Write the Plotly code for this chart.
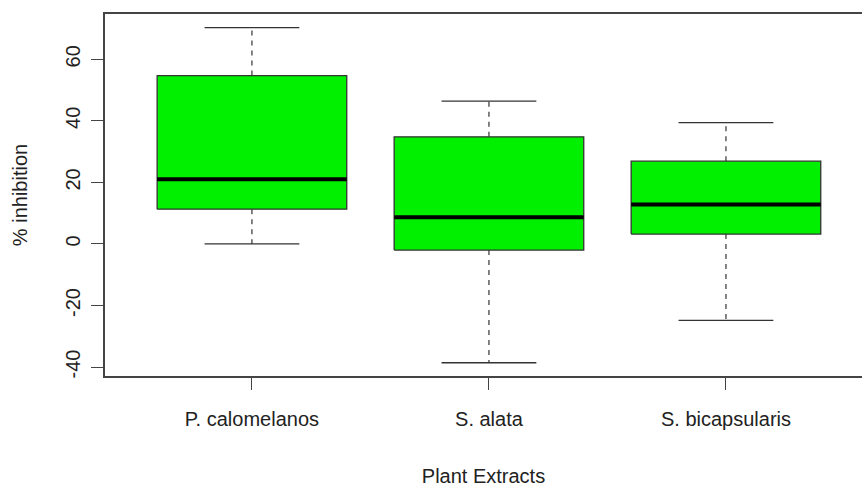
import plotly.graph_objects as go

categories = ["P. calomelanos", "S. alata", "S. bicapsularis"]
lower_whisker = [0.0, -38.6, -24.8]
q1_values = [11.3, -2.0, 3.2]
median_values = [21.0, 8.7, 12.8]
q3_values = [54.7, 34.8, 26.9]
upper_whisker = [70.3, 46.4, 39.4]
y_ticks = [-40, -20, 0, 20, 40, 60]

box_half = 0.4
cap_half = 0.2
positions = [i + 1 for i in range(len(categories))]

fig = go.Figure()
FONT = "Liberation Sans, Arial, Helvetica, sans-serif"

for i, x in enumerate(positions):
    # dashed whiskers
    for a, b in [(q3_values[i], upper_whisker[i]), (q1_values[i], lower_whisker[i])]:
        fig.add_trace(go.Scatter(x=[x, x], y=[a, b], mode="lines",
                                 line=dict(color="#333333", width=1.2, dash="5px,5px"),
                                 hoverinfo="skip", showlegend=False))
    # caps
    for v in [upper_whisker[i], lower_whisker[i]]:
        fig.add_trace(go.Scatter(x=[x - cap_half, x + cap_half], y=[v, v], mode="lines",
                                 line=dict(color="#333333", width=1.3),
                                 hoverinfo="skip", showlegend=False))
    # box
    fig.add_trace(go.Scatter(
        x=[x - box_half, x + box_half, x + box_half, x - box_half, x - box_half],
        y=[q1_values[i], q1_values[i], q3_values[i], q3_values[i], q1_values[i]],
        mode="lines", fill="toself", fillcolor="#00f000",
        line=dict(color="#333333", width=1.3),
        hoverinfo="skip", showlegend=False))
    # median
    fig.add_trace(go.Scatter(x=[x - box_half, x + box_half], y=[median_values[i]] * 2,
                             mode="lines", line=dict(color="#000000", width=4),
                             hoverinfo="skip", showlegend=False))

fig.update_layout(
    width=862, height=489,
    margin=dict(l=105, r=0, t=14, b=113),
    paper_bgcolor="white", plot_bgcolor="white",
    font=dict(family=FONT, size=20, color="#222222"),
    showlegend=False,
)
fig.update_xaxes(
    range=[0.38, 3.574], tickvals=positions, ticktext=categories,
    showgrid=False, zeroline=False, automargin=False,
    showline=True, linecolor="#444444", linewidth=1.5, mirror=True,
    ticks="outside", ticklen=12, tickcolor="#444444", tickwidth=1.2,
    ticklabelstandoff=12,
    title=dict(text="Plant Extracts", standoff=40, font=dict(size=20)),
)
fig.update_yaxes(
    range=[-42.9, 74.7], tickvals=y_ticks, ticktext=[str(v) for v in y_ticks],
    tickangle=-90,
    showgrid=False, zeroline=False, automargin=False,
    showline=True, linecolor="#444444", linewidth=1.5,
    ticks="outside", ticklen=12, tickcolor="#444444", tickwidth=1.2,
    ticklabelstandoff=3,
    title=dict(text="% inhibition", standoff=29, font=dict(size=20)),
)

fig.write_html("out.html", config={"displayModeBar": False},
               post_script="document.body.style.margin='0';document.body.style.overflow='hidden';")
